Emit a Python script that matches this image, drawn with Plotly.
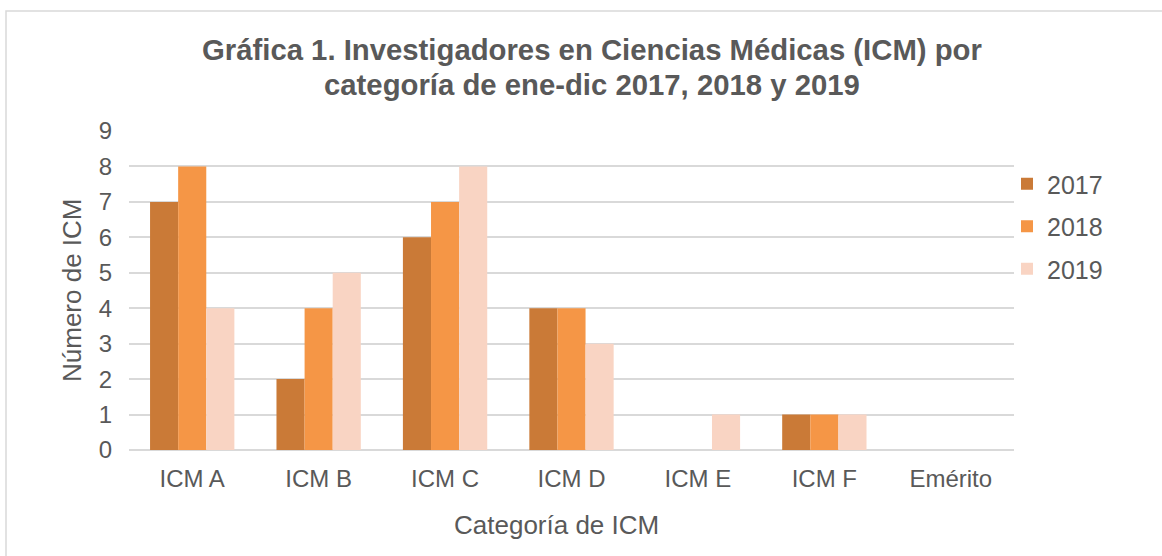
import plotly.graph_objects as go

categories = ["ICM A", "ICM B", "ICM C", "ICM D", "ICM E", "ICM F", "Emérito"]
years = ["2017", "2018", "2019"]
values_2017 = [7, 2, 6, 4, 0, 1, 0]
values_2018 = [8, 4, 7, 4, 0, 1, 0]
values_2019 = [4, 5, 8, 3, 1, 1, 0]
colors = ["#CA7A37", "#F59646", "#F9D4C3"]

W, H = 1162, 556
ML, MR, MT, MB = 129, 148, 131, 106
pw, ph = W - ML - MR, H - MT - MB

fig = go.Figure()
for name, vals, col in zip(years, [values_2017, values_2018, values_2019], colors):
    fig.add_trace(go.Bar(x=categories, y=vals, name=name, marker_color=col,
                         marker_line_width=0, legendgroup=name))

font_family = "Liberation Sans, Arial, sans-serif"
txt = "#595959"

def px_x(x):
    return (x - ML) / pw

def px_y(y):
    return (H - MB - y) / ph

fig.update_layout(
    width=W, height=H,
    margin=dict(l=ML, r=MR, t=MT, b=MB),
    paper_bgcolor="white", plot_bgcolor="white",
    barmode="group", bargap=0.333, bargroupgap=0,
    font=dict(family=font_family, color=txt, size=24),
    showlegend=True,
    legend=dict(x=px_x(1007), y=px_y(161), xanchor="left", yanchor="top",
                font=dict(size=25, color=txt), traceorder="grouped",
                tracegroupgap=7, bgcolor="rgba(0,0,0,0)"),
    xaxis=dict(showgrid=False, showline=False, ticks="", ticklabelstandoff=12,
               tickfont=dict(size=24, color=txt)),
    yaxis=dict(range=[0, 9], dtick=1, showgrid=True, gridcolor="#D9D9D9",
               gridwidth=1.5, zeroline=True, zerolinecolor="#D9D9D9", zerolinewidth=1.5,
               showline=False, ticks="", ticklabelstandoff=16,
               tickfont=dict(size=24, color=txt)),
    annotations=[
        dict(text="<b>Gráfica 1. Investigadores en Ciencias Médicas (ICM) por</b>",
             xref="paper", yref="paper", x=px_x(592), y=px_y(50), xanchor="center", yanchor="middle",
             showarrow=False, font=dict(size=29.3, color=txt)),
        dict(text="<b>categoría de ene-dic 2017, 2018 y 2019</b>",
             xref="paper", yref="paper", x=px_x(592), y=px_y(85), xanchor="center", yanchor="middle",
             showarrow=False, font=dict(size=29.3, color=txt)),
        dict(text="Número de ICM", xref="paper", yref="paper", x=px_x(72), y=px_y(290),
             xanchor="center", yanchor="middle", textangle=-90, showarrow=False,
             font=dict(size=26, color=txt)),
        dict(text="Categoría de ICM", xref="paper", yref="paper", x=px_x(556), y=px_y(525),
             xanchor="center", yanchor="middle", showarrow=False,
             font=dict(size=26, color=txt)),
    ],
    shapes=[
        dict(type="rect", xref="paper", yref="paper", x0=px_x(6), y0=px_y(11),
             x1=px_x(1170), y1=px_y(570), line=dict(color="#D9D9D9", width=1.5),
             fillcolor="rgba(0,0,0,0)", layer="below"),
    ],
)

fig.write_html("out.html", config={"displayModeBar": False},
               post_script="document.body.style.margin='0';document.body.style.overflow='hidden';")
